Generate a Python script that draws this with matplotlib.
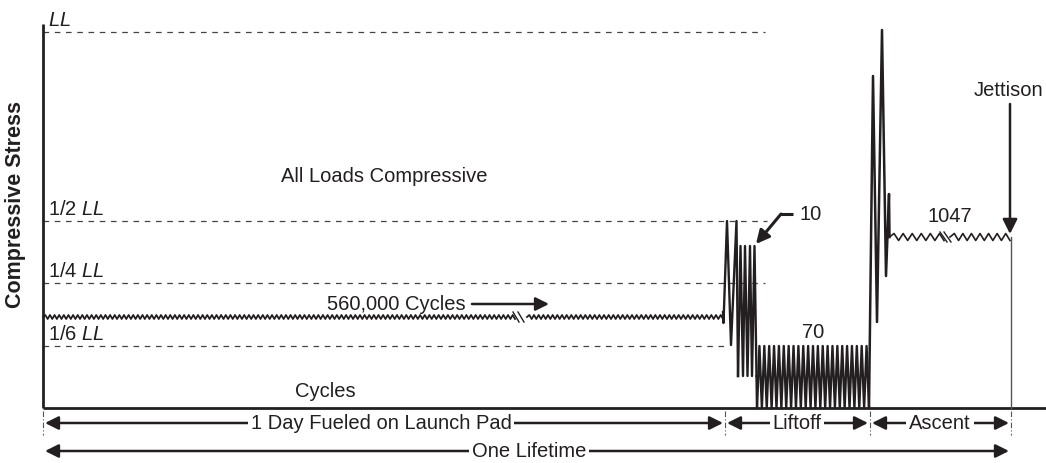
import numpy as np
import matplotlib
matplotlib.use("Agg")
import matplotlib.pyplot as plt

plt.rcParams["font.family"] = ["Liberation Sans", "DejaVu Sans"]
plt.rcParams["mathtext.fontset"] = "custom"
plt.rcParams["mathtext.it"] = "Liberation Sans:italic"
plt.rcParams["mathtext.rm"] = "Liberation Sans"

# schematic stress levels (height above zero stress, schematic units)
level_labels = ["$\\mathit{LL}$", "1/2 $\\mathit{LL}$", "1/4 $\\mathit{LL}$", "1/6 $\\mathit{LL}$"]
level_y = [376, 187, 125, 62]
level_end = [765, 767, 765, 729]

# phase boundaries (schematic time)
t_start, t_liftoff, t_ascent, t_jettison = 43, 725, 870, 1011

# fueled on pad: 560,000 cycles (drawn schematic)
pad_mean, pad_amp, pad_waves = 91, 2.0, 148
pad_break = (515, 527)

# liftoff transient
lift_x = [723, 723.5, 727, 731, 736.5, 738]
lift_y = [96, 85, 187, 63, 187, 32]
# 10 cycles group
ten_top, ten_bot = 162, 32
ten_x = [738, 740.5, 743, 745, 747.5, 750, 752, 754.5, 756.5]
# 70 cycles group
seventy_top, seventy_bot, seventy_waves = 62, 0, 23
seventy_span = (757, 869)

# ascent transient
asc_x = [869, 873, 877, 882, 886, 889, 889.5]
asc_y = [0, 332, 86, 378, 132, 214, 171]
# 1047 cycles
asc_mean, asc_amp, asc_waves = 171, 3.5, 15
asc_break = (944, 950)


def zigzag(x0, x1, mean, amp, n):
    xs = np.linspace(x0, x1, 2 * n + 1)
    ys = np.full(xs.shape, float(mean))
    ys[1::2] += amp
    ys[2::2] -= amp
    return xs, ys


fig = plt.figure(figsize=(10.46, 4.64), dpi=100)
ax = fig.add_axes([0, 0, 1, 1])
ax.set_xlim(0, 1046)
ax.set_ylim(-55, 409)
ax.axis("off")

ink = "#231f20"
fs = 14.5

# reference levels
for lab, y, xe in zip(level_labels, level_y, level_end):
    ax.plot([t_start, xe], [y, y], ls=(0, (4.5, 4.5)), lw=0.9, color="#444444")
    ax.text(t_start + 5, y + 3, lab, fontsize=fs, va="bottom", ha="left", color=ink)

# axes
ax.plot([t_start, t_start], [0, 384], color=ink, lw=2.0, solid_capstyle="butt")
ax.plot([t_start, 1046], [0, 0], color=ink, lw=2.0, solid_capstyle="butt")

# pad cycles with break
xs, ys = zigzag(t_start, pad_break[0], pad_mean, pad_amp, int(pad_waves * (pad_break[0] - t_start) / (723 - t_start)))
ax.plot(xs, ys, color=ink, lw=1.3)
xs, ys = zigzag(pad_break[1], 723, pad_mean, pad_amp, int(pad_waves * (723 - pad_break[1]) / (723 - t_start)))
ax.plot(xs, ys, color=ink, lw=1.3)
for dx in (0, 5):
    ax.plot([pad_break[0] - 2 + dx, pad_break[0] + 4 + dx], [pad_mean + 5, pad_mean - 5], color=ink, lw=1.0)

# liftoff transient + 10 cycles
ax.plot(lift_x, lift_y, color=ink, lw=1.7)
ten_y = [ten_bot if i % 2 == 0 else ten_top for i in range(len(ten_x))]
ax.plot(ten_x, ten_y, color=ink, lw=1.7)
ax.plot([ten_x[-1], seventy_span[0]], [ten_y[-1], seventy_bot], color=ink, lw=1.7)

# 70 cycles
xs = np.linspace(seventy_span[0], seventy_span[1], 2 * seventy_waves + 1)
ys = np.where(np.arange(xs.size) % 2 == 0, seventy_bot, seventy_top)
ax.plot(xs, ys, color=ink, lw=1.7)

# ascent transient
ax.plot(asc_x, asc_y, color=ink, lw=1.8)
xs, ys = zigzag(asc_x[-1], asc_break[0], asc_mean, asc_amp, int(asc_waves * (asc_break[0] - asc_x[-1]) / (t_jettison - asc_x[-1])))
ax.plot(xs, ys, color=ink, lw=1.2)
xs, ys = zigzag(asc_break[1], t_jettison - 1, asc_mean, asc_amp, int(asc_waves * (t_jettison - 1 - asc_break[1]) / (t_jettison - asc_x[-1])))
ax.plot(xs, ys, color=ink, lw=1.2)
for dx in (0, 4):
    ax.plot([asc_break[0] - 4 + dx, asc_break[0] + 3 + dx], [asc_mean + 5, asc_mean - 5], color=ink, lw=1.0)

# jettison
ax.plot([t_jettison, t_jettison], [0, asc_mean], color="#555555", lw=1.0)
ax.annotate("", xy=(t_jettison - 1, asc_mean + 3), xytext=(t_jettison - 1, 304),
            arrowprops=dict(arrowstyle="-|>", color=ink, lw=1.8, mutation_scale=22, shrinkA=0, shrinkB=0))
ax.text(1008, 319, "Jettison", fontsize=fs, ha="center", va="center", color=ink)

# labels in plot
ax.text(384, 233, "All Loads Compressive", fontsize=fs, ha="center", va="center", color=ink)
ax.text(396, 105, "560,000 Cycles", fontsize=fs, ha="center", va="center", color=ink)
ax.annotate("", xy=(549, 104), xytext=(472, 104),
            arrowprops=dict(arrowstyle="-|>", color=ink, lw=1.8, mutation_scale=20, shrinkA=0, shrinkB=0))
ax.text(325, 17, "Cycles", fontsize=fs, ha="center", va="center", color=ink)
ax.text(813, 77, "70", fontsize=fs, ha="center", va="center", color=ink)
ax.text(950, 192, "1047", fontsize=fs, ha="center", va="center", color=ink)
ax.text(811, 194, "10", fontsize=fs, ha="center", va="center", color=ink)
ax.plot([793, 780], [194, 194], color=ink, lw=2.2, solid_capstyle="butt")
ax.annotate("", xy=(756, 164), xytext=(781, 194),
            arrowprops=dict(arrowstyle="-|>", color=ink, lw=2.2, mutation_scale=20, shrinkA=0, shrinkB=0))

ax.text(16, 204, "Compressive Stress", fontsize=15.5, fontweight="bold",
        rotation=90, ha="center", va="center", color=ink)

# phase separators
for xv in (t_start, t_liftoff, t_ascent, t_jettison):
    ax.plot([xv, xv], [-3, -27], ls=(0, (5, 2, 1, 2)), lw=0.8, color="#555555")


def span_arrow(x0, x1, y, label, cx):
    ax.annotate("", xy=(x1, y), xytext=(x0, y),
                arrowprops=dict(arrowstyle="<|-|>", color=ink, lw=1.8, mutation_scale=20,
                                shrinkA=0, shrinkB=0))
    ax.text(cx, y, label, fontsize=fs, ha="center", va="center", color=ink,
            bbox=dict(facecolor="white", edgecolor="none", pad=2))


row1, row2 = -15, -43
span_arrow(t_start + 2, t_liftoff - 2, row1, "1 Day Fueled on Launch Pad", 381)
span_arrow(t_liftoff + 2, t_ascent - 2, row1, "Liftoff", 797)
span_arrow(t_ascent + 2, t_jettison - 2, row1, "Ascent", 940)
span_arrow(t_start + 2, t_jettison - 2, row2, "One Lifetime", 529)

fig.savefig("out.png", dpi=100)
